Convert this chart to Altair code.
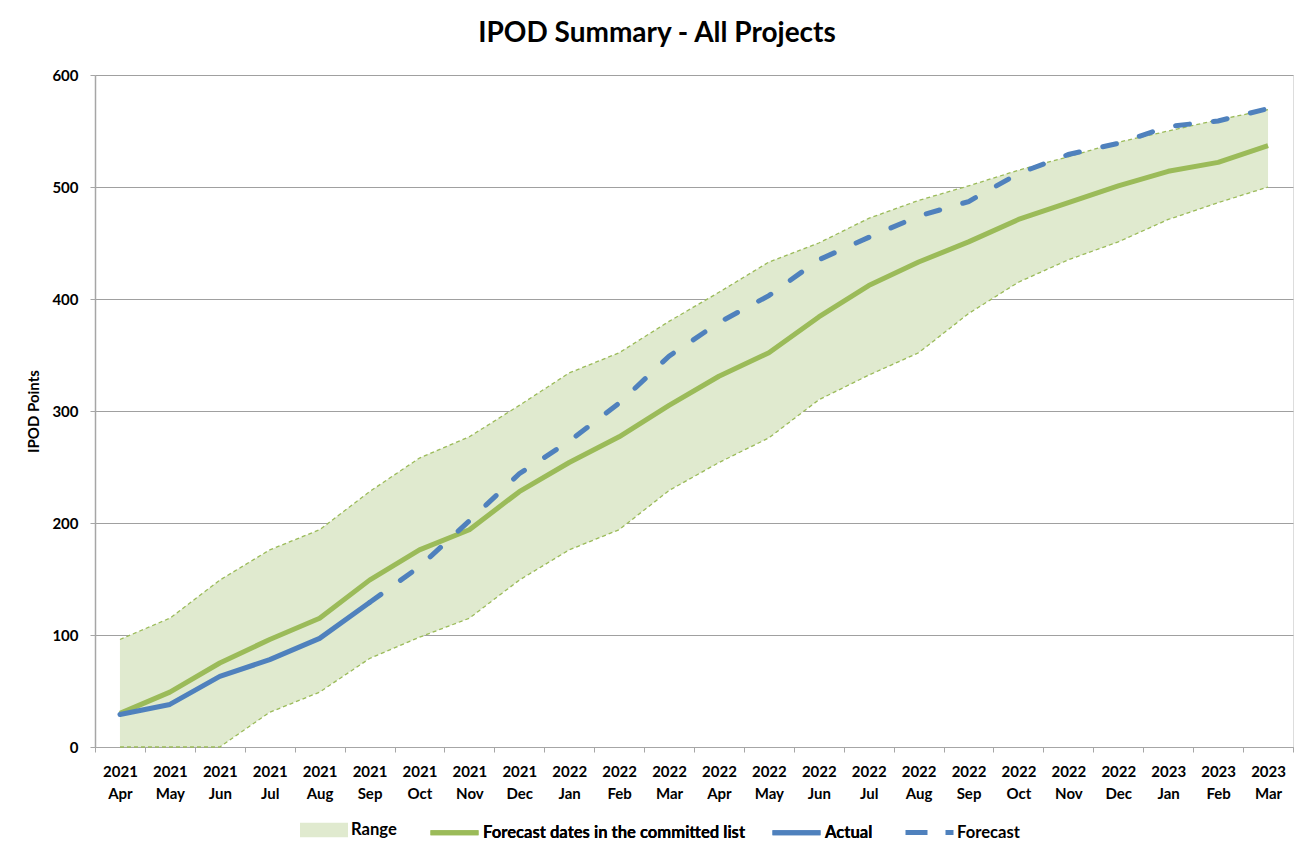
import altair as alt
import pandas as pd

months = ["2021 Apr", "2021 May", "2021 Jun", "2021 Jul", "2021 Aug", "2021 Sep",
          "2021 Oct", "2021 Nov", "2021 Dec", "2022 Jan", "2022 Feb", "2022 Mar",
          "2022 Apr", "2022 May", "2022 Jun", "2022 Jul", "2022 Aug", "2022 Sep",
          "2022 Oct", "2022 Nov", "2022 Dec", "2023 Jan", "2023 Feb", "2023 Mar"]
range_upper = [96, 115, 149, 176, 194, 228, 258, 277, 305, 334, 352, 380,
               406, 433, 450, 472, 488, 501, 515, 527, 540, 550, 560, 569]
range_lower = [0, 0, 0, 31, 49, 79, 98, 115, 149, 176, 194, 229,
               254, 276, 310, 332, 352, 387, 415, 435, 451, 471, 486, 500]
committed = [30, 49, 75, 96, 115, 149, 176, 194, 228, 254, 277, 305,
             331, 352, 384, 412, 433, 451, 471, 486, 501, 514, 522, 537]
actual = [29, 38, 63, 78, 97, 129] + [None] * 18
forecast = [None] * 5 + [129, 161, 202, 244, 273, 307, 349, 379, 403, 435,
                         455, 474, 487, 512, 529, 539, 554, 559, 570]

line_series = ["Forecast dates in the committed list", "Actual"]

GREEN = "#9bbb59"
BLUE = "#4f81bd"
FILL = "#e0eacf"
FONT = "Lato"

df = pd.DataFrame({
    "month": months,
    "upper": range_upper,
    "lower": range_lower,
    "committed": committed,
    "actual": actual,
    "forecast": forecast,
})

LEG_Y = 731
common_legend = dict(
    title=None,
    orient="none",
    legendY=LEG_Y,
    direction="horizontal",
    labelFont=FONT,
    labelFontSize=16.6,
    labelFontWeight="bold",
    labelColor="black",
    labelLimit=400,
    symbolSize=2304,
)

x = alt.X(
    "month:N",
    sort=months,
    bandPosition=0.5,
    scale=alt.Scale(type="band", paddingInner=0, paddingOuter=0),
    axis=alt.Axis(
        title=None,
        labelAngle=0,
        labelExpr="split(datum.label, ' ')",
        labelFont=FONT,
        labelFontSize=15,
        labelFontWeight="bold",
        labelColor="black",
        labelLineHeight=22,
        labelPadding=12,
        tickBand="extent",
        tickSize=5,
        tickColor="#a6a6a6",
        domainColor="#a6a6a6",
        grid=False,
    ),
)

y_axis = alt.Axis(
    title="IPOD Points",
    titleFont=FONT,
    titleFontSize=15,
    titleFontWeight="bold",
    titleColor="black",
    titlePadding=10,
    values=[0, 100, 200, 300, 400, 500, 600],
    labelFont=FONT,
    labelFontSize=15,
    labelFontWeight="bold",
    labelColor="black",
    labelPadding=12,
    tickSize=5,
    tickColor="#a6a6a6",
    domainColor="#a6a6a6",
    domainWidth=1.5,
    gridColor="#a0a0a0",
    gridWidth=1,
)
y_scale = alt.Scale(domain=[0, 600], nice=False)

base = alt.Chart(df)

area = base.transform_calculate(series="'Range'").mark_area(opacity=1).encode(
    x=x,
    y=alt.Y("upper:Q", scale=y_scale, axis=y_axis),
    y2="lower:Q",
    fill=alt.Fill(
        "series:N",
        scale=alt.Scale(domain=["Range"], range=[FILL]),
        legend=alt.Legend(legendX=205, symbolType="M-1,-0.3H1V0.3H-1Z",
                          symbolStrokeWidth=0, labelOffset=3, **common_legend),
    ),
)

upper_line = base.mark_line(color=GREEN, strokeWidth=1.3, strokeDash=[4, 3]).encode(
    x=x, y=alt.Y("upper:Q", scale=y_scale))
lower_line = base.mark_line(color=GREEN, strokeWidth=1.3, strokeDash=[4, 3]).encode(
    x=x, y=alt.Y("lower:Q", scale=y_scale))

stroke_scale = alt.Scale(domain=line_series, range=[GREEN, BLUE])
stroke_legend = alt.Legend(legendX=333, symbolType="stroke", symbolStrokeWidth=5,
                           columnPadding=16, labelOffset=2, **common_legend)

committed_line = base.transform_calculate(
    series="'Forecast dates in the committed list'"
).mark_line(strokeWidth=5, strokeJoin="round").encode(
    x=x,
    y=alt.Y("committed:Q", scale=y_scale),
    stroke=alt.Stroke("series:N", scale=stroke_scale, legend=stroke_legend),
)

actual_line = base.transform_calculate(series="'Actual'").mark_line(
    strokeWidth=5, strokeJoin="round", strokeCap="round"
).encode(
    x=x,
    y=alt.Y("actual:Q", scale=y_scale),
    stroke=alt.Stroke("series:N", scale=stroke_scale, legend=stroke_legend),
)

forecast_line = base.mark_line(
    color=BLUE, strokeWidth=5, strokeCap="round", strokeDash=[14, 24]
).encode(
    x=x,
    y=alt.Y("forecast:Q", scale=y_scale),
)

# legend-only layer for the dashed "Forecast" entry (draws no marks)
forecast_key = base.transform_filter("false").transform_calculate(
    series="'Forecast'"
).mark_line(color=BLUE, strokeWidth=5).encode(
    x=x,
    y=alt.Y("forecast:Q", scale=y_scale),
    strokeDash=alt.StrokeDash(
        "series:N",
        scale=alt.Scale(domain=["Forecast"], range=[[22, 18]]),
        legend=alt.Legend(legendX=808, symbolType="stroke", symbolStrokeWidth=5,
                          symbolStrokeColor=BLUE, labelOffset=1, **common_legend),
    ),
)

chart = alt.layer(
    area, upper_line, lower_line, committed_line, actual_line, forecast_line, forecast_key
).properties(
    width=1198,
    height=672,
    title=alt.TitleParams(
        "IPOD Summary - All Projects",
        font=FONT,
        fontSize=28,
        fontWeight="bold",
        color="black",
        anchor="middle",
        dx=-37,
        offset=20,
    ),
    autosize=alt.AutoSizeParams(type="none"),
    padding={"left": 87, "top": 67, "right": 11, "bottom": 100},
).resolve_scale(
    fill="independent", stroke="independent", strokeDash="independent"
).configure_view(stroke=None).configure(background="white")

chart.save("out.html", embed_options={"renderer": "svg", "actions": False})
